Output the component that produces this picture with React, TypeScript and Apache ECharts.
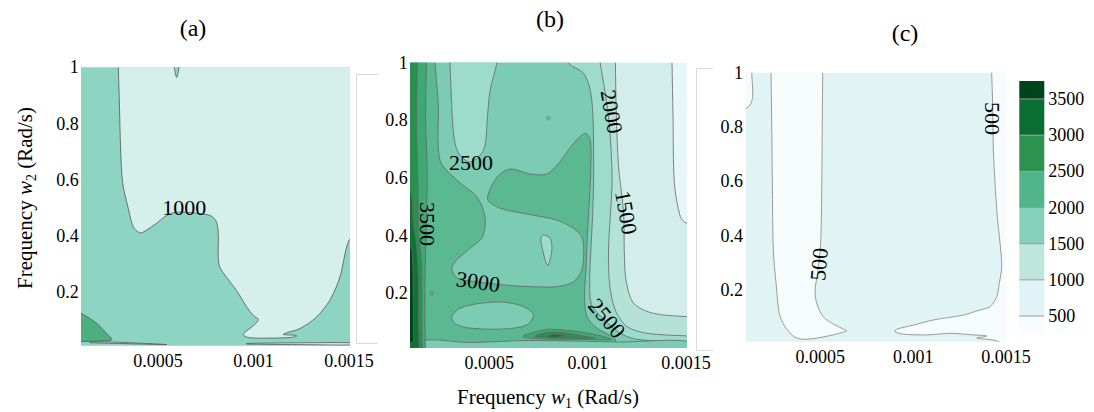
import React, { useEffect, useRef } from "react";
import * as echarts from "echarts";

// Polygon w1 coordinates are written in units of 1e-4 rad/s, w2 in rad/s.
const W1_UNIT = 1e-4;

const X_TICKS = [0.0005, 0.001, 0.0015];
const Y_TICKS = [0.2, 0.4, 0.6, 0.8, 1];
const COLORBAR_TICKS = [500, 1000, 1500, 2000, 2500, 3000, 3500];
const COLORBAR_BOUNDS = [250, 500, 1000, 1500, 2000, 2500, 3000, 3500, 3750];
const COLORBAR_COLORS = ["#f7fcfd", "#e0f3f6", "#bfe6dd", "#87d1bb", "#52b48a", "#2d9150", "#0a6e32", "#00441b"];

// Whole panel (extends past the axes, clipped)
const FULL = [[0.5, 1.05], [15.5, 1.05], [15.5, -0.05], [0.5, -0.05]];

// ---- Panel (a) ----
const A_UPPER = [[2.92, 1.05], [15.5, 1.05], [15.5, 0.4], [15.0, 0.385], [14.52, 0.253], [14.0, 0.172], [13.3, 0.112], [12.43, 0.071], [11.73, 0.056], [11.56, 0.05], [12.17, 0.047], [12.26, 0.044], [11.91, 0.039], [10.69, 0.037], [9.72, 0.039], [9.46, 0.05], [9.72, 0.067], [10.07, 0.086], [10.25, 0.103], [9.98, 0.118], [9.64, 0.148], [9.12, 0.205], [8.59, 0.253], [8.24, 0.288], [8.15, 0.326], [8.15, 0.415], [8.03, 0.454], [7.72, 0.473], [7.02, 0.481], [5.97, 0.485], [5.45, 0.473], [4.93, 0.446], [4.4, 0.421], [4.05, 0.411], [3.7, 0.433], [3.44, 0.498], [3.15, 0.587], [3.04, 0.706], [2.97, 0.884], [2.92, 1.0]];
const A_NOTCH = [[5.8, 1.05], [5.85, 1.0], [5.97, 0.964], [6.1, 1.0], [6.15, 1.05]];
const A_CORNER = [[0.5, 0.13], [1.0, 0.124], [1.79, 0.089], [2.31, 0.053], [2.57, 0.032], [2.13, 0.027], [1.0, 0.025], [0.5, 0.025]];
const A_SLIVER_L = [[1.43, 0.024], [3.0, 0.022], [5.45, 0.014], [3.0, 0.018], [1.43, 0.021]];
const A_SLIVER_R = [[9.64, 0.018], [12.0, 0.02], [15.5, 0.02], [15.5, 0.013], [12.0, 0.014], [9.64, 0.016]];

// ---- Panel (b) ----
const B_L1 = [[0.5, 1.05], [14.29, 1.05], [14.29, 1.0], [14.34, 0.813], [14.41, 0.582], [14.71, 0.466], [15.02, 0.443], [15.5, 0.44], [15.5, -0.05], [0.5, -0.05]];
const B_L2 = [[0.5, 1.05], [11.41, 1.05], [11.41, 1.0], [11.46, 0.813], [11.57, 0.64], [11.83, 0.477], [11.86, 0.35], [11.95, 0.246], [12.34, 0.165], [13.36, 0.13], [15.02, 0.119], [15.5, 0.119], [15.5, -0.05], [0.5, -0.05]];
const B_L3 = [[0.5, 1.05], [10.64, 1.05], [10.64, 1.0], [10.81, 0.928], [11.06, 0.813], [11.19, 0.697], [11.24, 0.582], [11.15, 0.466], [11.06, 0.35], [11.11, 0.235], [11.4, 0.142], [12.0, 0.084], [13.02, 0.061], [15.02, 0.052], [15.5, 0.052], [15.5, -0.05], [0.5, -0.05]];
const B_L4 = [[0.5, 1.05], [9.02, 1.05], [9.02, 1.0], [9.79, 0.963], [10.13, 0.905], [10.27, 0.813], [10.3, 0.697], [10.3, 0.582], [10.25, 0.466], [10.16, 0.35], [10.1, 0.235], [10.2, 0.16], [10.81, 0.11], [11.66, 0.061], [12.51, 0.04], [15.02, 0.03], [15.5, 0.03], [15.5, -0.05], [0.5, -0.05]];
const B_L5 = [[0.5, 1.05], [2.24, 1.05], [2.24, 1.0], [2.4, 0.859], [2.49, 0.662], [3.34, 0.593], [4.36, 0.535], [4.78, 0.466], [4.66, 0.396], [4.02, 0.356], [3.34, 0.315], [3.09, 0.286], [3.38, 0.252], [4.36, 0.24], [5.72, 0.229], [7.07, 0.223], [8.43, 0.223], [9.28, 0.24], [9.7, 0.28], [9.8, 0.35], [9.7, 0.396], [9.28, 0.425], [8.43, 0.454], [6.91, 0.475], [5.55, 0.495], [4.91, 0.527], [5.38, 0.602], [6.06, 0.631], [7.07, 0.614], [7.92, 0.614], [8.6, 0.657], [9.28, 0.72], [9.87, 0.755], [10.13, 0.734], [10.16, 0.639], [10.09, 0.524], [9.99, 0.408], [9.92, 0.292], [9.84, 0.188], [9.96, 0.119], [10.47, 0.079], [11.15, 0.053], [11.4, 0.04], [11.6, -0.05], [0.5, -0.05]];
const B_TOP_BLOB = [[3.0, 1.05], [3.0, 1.0], [3.07, 0.88], [3.17, 0.76], [3.4, 0.69], [4.0, 0.655], [4.6, 0.685], [4.8, 0.72], [4.9, 0.81], [5.04, 0.905], [5.38, 1.0], [5.38, 1.05]];
const B_ELLIPSE = [[3.09, 0.119], [3.51, 0.148], [4.53, 0.165], [5.72, 0.169], [6.73, 0.154], [7.24, 0.125], [6.91, 0.09], [5.72, 0.076], [4.02, 0.079], [3.26, 0.094]];
const B_SPIKE = [[7.75, 0.402], [8.09, 0.391], [8.18, 0.35], [8.0, 0.298], [7.89, 0.304], [7.67, 0.362], [7.62, 0.391]];
const B_DOT_UPPER = [[7.92, 0.808], [8.0, 0.815], [8.08, 0.808], [8.0, 0.801]];
const B_DOT_LOWER = [[1.99, 0.2], [2.07, 0.207], [2.15, 0.2], [2.07, 0.193]];
const B_BOTTOM = [[1.5, 0.032], [4.0, 0.029], [7.0, 0.036], [11.6, 0.031], [15.5, 0.028], [15.5, -0.05], [1.5, -0.05]];
const B_LENS_OUTER = [[6.7, 0.05], [7.4, 0.067], [8.1, 0.075], [9.45, 0.067], [10.5, 0.055], [11.2, 0.04], [9.5, 0.04], [7.5, 0.042]];
const B_LENS_MID = [[7.3, 0.05], [8.0, 0.065], [8.8, 0.063], [9.9, 0.05], [10.4, 0.043], [8.5, 0.044]];
const B_LENS_CORE = [[7.9, 0.05], [8.3, 0.057], [8.8, 0.053], [8.4, 0.047]];
const B_L6 = [[0.5, 1.05], [1.8, 1.05], [1.8, 1.0], [1.76, 0.8], [1.84, 0.62], [1.8, 0.45], [1.74, 0.3], [1.72, 0.12], [1.74, 0.03], [1.74, -0.05], [0.5, -0.05]];
const B_L7 = [[0.5, 1.05], [1.34, 1.05], [1.34, 1.0], [1.3, 0.8], [1.36, 0.6], [1.42, 0.4], [1.55, 0.3], [1.56, 0.12], [1.58, 0.03], [1.58, -0.05], [0.5, -0.05]];
const B_L8 = [[0.5, 0.55], [1.0, 0.55], [1.12, 0.45], [1.3, 0.36], [1.39, 0.25], [1.4, 0.1], [1.42, 0.03], [1.42, -0.05], [0.5, -0.05]];
const B_L9 = [[0.5, 0.36], [1.0, 0.36], [1.1, 0.3], [1.13, 0.18], [1.14, 0.06], [1.1, 0.03], [0.5, 0.03]];

// ---- Panel (c) ----
const C_LEFT = [[2.35, 1.05], [2.35, 1.0], [2.38, 0.838], [2.42, 0.593], [2.47, 0.347], [2.62, 0.225], [2.79, 0.114], [3.1, 0.065], [3.64, 0.026], [4.27, 0.019], [5.35, 0.03], [6.42, 0.05], [6.2, 0.058], [5.7, 0.075], [5.16, 0.102], [4.81, 0.151], [4.72, 0.2], [4.85, 0.26], [5.02, 0.372], [5.08, 0.593], [5.11, 0.838], [5.13, 1.0], [5.13, 1.05]];
const C_CORNER = [[0.5, 1.05], [1.31, 1.05], [1.31, 1.0], [1.36, 0.912], [1.22, 0.881], [1.0, 0.869], [0.5, 0.869]];
const C_RIGHT = [[14.23, 1.05], [14.23, 1.0], [14.28, 0.887], [14.32, 0.716], [14.41, 0.593], [14.53, 0.47], [14.68, 0.372], [14.77, 0.286], [14.64, 0.225], [14.5, 0.176], [14.14, 0.139], [13.6, 0.127], [12.7, 0.108], [11.09, 0.09], [10.01, 0.071], [9.12, 0.056], [9.02, 0.047], [9.47, 0.038], [10.73, 0.035], [11.99, 0.041], [13.24, 0.035], [13.96, 0.031], [13.42, 0.023], [14.2, 0.017], [14.7, 0.005], [14.7, -0.05], [15.5, -0.05], [15.5, 1.05]];

// Contour labels: text, w1 (1e-4 rad/s), w2, angle in degrees
const LABELS_A = [{ text: "1000", w1: 6.37, w2: 0.5, angle: 0 }];
const LABELS_B = [
  { text: "2500", w1: 4.07, w2: 0.652, angle: 0 },
  { text: "3500", w1: 1.87, w2: 0.44, angle: -90 },
  { text: "3000", w1: 4.43, w2: 0.24, angle: -8 },
  { text: "2000", w1: 11.22, w2: 0.83, angle: -80 },
  { text: "1500", w1: 11.96, w2: 0.48, angle: -80 },
  { text: "2500", w1: 10.98, w2: 0.113, angle: -50 },
];
const LABELS_C = [
  { text: "500", w1: 4.93, w2: 0.295, angle: 85 },
  { text: "500", w1: 14.28, w2: 0.831, angle: -90 },
];

const PAL_A = { mid: "#8dd4c2", light: "#d5efeb", dark: "#4caf7e" };
const PAL_B = ["#e7f6f9", "#d3eeea", "#b4e2d7", "#9ddbcb", "#7ccbb3", "#5bb991", "#40a874", "#2a9050", "#0f7335", "#00441b"];
const PAL_C = { mid: "#e0f3f5", low: "#f6fbfc" };

const LAYERS_A = [
  { pts: FULL, color: PAL_A.mid, edge: false },
  { pts: A_UPPER, color: PAL_A.light, edge: true },
  { pts: A_NOTCH, color: PAL_A.mid, edge: true },
  { pts: A_CORNER, color: PAL_A.dark, edge: true },
  { pts: A_SLIVER_L, color: PAL_A.light, edge: true },
  { pts: A_SLIVER_R, color: PAL_A.light, edge: true },
];
const LAYERS_B = [
  { pts: FULL, color: PAL_B[0], edge: false },
  { pts: B_L1, color: PAL_B[1], edge: true },
  { pts: B_L2, color: PAL_B[2], edge: true },
  { pts: B_L3, color: PAL_B[3], edge: true },
  { pts: B_L4, color: PAL_B[4], edge: true },
  { pts: B_L5, color: PAL_B[5], edge: true },
  { pts: B_TOP_BLOB, color: PAL_B[3], edge: true },
  { pts: B_ELLIPSE, color: PAL_B[4], edge: true },
  { pts: B_SPIKE, color: PAL_B[3], edge: true },
  { pts: B_DOT_UPPER, color: PAL_B[4], edge: true },
  { pts: B_DOT_LOWER, color: PAL_B[5], edge: true },
  { pts: B_BOTTOM, color: PAL_B[4], edge: true },
  { pts: B_LENS_OUTER, color: PAL_B[6], edge: true },
  { pts: B_LENS_MID, color: PAL_B[7], edge: true },
  { pts: B_LENS_CORE, color: PAL_B[8], edge: true },
  { pts: B_L6, color: PAL_B[6], edge: true },
  { pts: B_L7, color: PAL_B[7], edge: true },
  { pts: B_L8, color: PAL_B[8], edge: true },
  { pts: B_L9, color: PAL_B[9], edge: true },
];
const LAYERS_C = [
  { pts: FULL, color: PAL_C.mid, edge: false },
  { pts: C_LEFT, color: PAL_C.low, edge: true },
  { pts: C_CORNER, color: PAL_C.low, edge: true },
  { pts: C_RIGHT, color: PAL_C.low, edge: true },
];

const SERIF = "'Liberation Serif', serif";

function contourSeries(idx: number, layers: any[], lineColor: string, lineWidth: number) {
  return {
    type: "custom",
    xAxisIndex: idx,
    yAxisIndex: idx,
    coordinateSystem: "cartesian2d",
    clip: true,
    silent: true,
    data: layers.map((_l, k) => [0.0008, 0.5, k]),
    renderItem: (params: any, api: any) => {
      const layer = layers[params.dataIndex];
      const points = layer.pts.map((p: number[]) => api.coord([p[0] * W1_UNIT, p[1]]));
      return {
        type: "polygon",
        shape: { points, smooth: layer.edge ? 0.3 : 0 },
        style: {
          fill: layer.color,
          stroke: layer.edge ? lineColor : "none",
          lineWidth,
        },
      };
    },
  };
}

function labelSeries(idx: number, labels: any[]) {
  return {
    type: "custom",
    xAxisIndex: idx,
    yAxisIndex: idx,
    coordinateSystem: "cartesian2d",
    silent: true,
    data: labels.map((l) => [l.w1 * W1_UNIT, l.w2]),
    renderItem: (params: any, api: any) => {
      const l = labels[params.dataIndex];
      const [x, y] = api.coord([api.value(0), api.value(1)]);
      return {
        type: "text",
        x,
        y,
        rotation: (l.angle * Math.PI) / 180,
        style: {
          text: l.text,
          fill: "#000",
          fontFamily: SERIF,
          fontSize: 22,
          align: "center",
          verticalAlign: "middle",
        },
      };
    },
  };
}

const tickLabel = { color: "#000", fontFamily: SERIF, fontSize: 18 };

function xAxisFor(gridIndex: number) {
  return {
    type: "value",
    gridIndex,
    min: 0.0001,
    max: 0.0015,
    axisLine: { show: false },
    axisTick: { show: false },
    splitLine: { show: false },
    axisLabel: { ...tickLabel, margin: 6, customValues: X_TICKS, formatter: (v: number) => String(v) },
  };
}
function yAxisFor(gridIndex: number) {
  return {
    type: "value",
    gridIndex,
    min: 0.01,
    max: 1,
    axisLine: { show: false },
    axisTick: { show: false },
    splitLine: { show: false },
    axisLabel: { ...tickLabel, margin: 3, customValues: Y_TICKS, formatter: (v: number) => String(v) },
  };
}

function textStyle(text: string, size: number) {
  return {
    text,
    fontFamily: SERIF,
    fontSize: size,
    fill: "#000",
    align: "center",
    verticalAlign: "middle",
    textAlign: "center",
    textVerticalAlign: "middle",
  };
}

function buildOption() {
  const bands = COLORBAR_COLORS.map((c, i) => [COLORBAR_BOUNDS[i], COLORBAR_BOUNDS[i + 1], i]);
  const axisTitleRich = {
    t: { fontFamily: SERIF, fontSize: 21, fill: "#000", lineHeight: 26 },
    i: { fontFamily: SERIF, fontSize: 21, fontStyle: "italic", fill: "#000", lineHeight: 26 },
    s: { fontFamily: SERIF, fontSize: 14, fill: "#000", lineHeight: 14, verticalAlign: "bottom" },
  };
  return {
    animation: false,
    backgroundColor: "#ffffff",
    textStyle: { fontFamily: SERIF },
    grid: [
      { left: 81.7, top: 67.3, width: 267.3, height: 278.4 },
      { left: 410.7, top: 62.7, width: 275.3, height: 285.3 },
      { left: 746, top: 72.7, width: 260, height: 269 },
      { left: 1019.3, top: 62.8, width: 25, height: 289.4 },
    ],
    xAxis: [
      xAxisFor(0),
      xAxisFor(1),
      xAxisFor(2),
      { type: "value", gridIndex: 3, min: 0, max: 1, show: false },
    ],
    yAxis: [
      yAxisFor(0),
      yAxisFor(1),
      yAxisFor(2),
      {
        type: "value",
        gridIndex: 3,
        min: 0,
        max: 4000,
        position: "right",
        axisLine: { show: false },
        axisTick: { show: false },
        splitLine: { show: false },
        axisLabel: { ...tickLabel, margin: 4, customValues: COLORBAR_TICKS, formatter: (v: number) => String(v) },
      },
    ],
    series: [
      contourSeries(0, LAYERS_A, "#555555", 0.8),
      contourSeries(1, LAYERS_B, "#666666", 0.8),
      contourSeries(2, LAYERS_C, "#9a9a9a", 1),
      labelSeries(0, LABELS_A),
      labelSeries(1, LABELS_B),
      labelSeries(2, LABELS_C),
      {
        type: "custom",
        xAxisIndex: 3,
        yAxisIndex: 3,
        coordinateSystem: "cartesian2d",
        silent: true,
        data: bands,
        renderItem: (_params: any, api: any) => {
          const lo = api.value(0);
          const hi = api.value(1);
          const idx = api.value(2);
          const tl = api.coord([0, hi]);
          const br = api.coord([1, lo]);
          const children: any[] = [
            {
              type: "rect",
              shape: { x: tl[0], y: tl[1], width: br[0] - tl[0], height: br[1] - tl[1] },
              style: { fill: COLORBAR_COLORS[idx] },
            },
          ];
          if (idx > 0) {
            children.push({
              type: "line",
              shape: { x1: tl[0], y1: br[1], x2: br[0], y2: br[1] },
              style: { stroke: "#9a9a9a", lineWidth: 1 },
            });
          }
          return { type: "group", children };
        },
      },
    ],
    graphic: [
      { type: "text", x: 193, y: 28, style: textStyle("(a)", 24) },
      { type: "text", x: 550, y: 19, style: textStyle("(b)", 24) },
      { type: "text", x: 905, y: 33, style: textStyle("(c)", 24) },
      {
        type: "text",
        x: 548,
        y: 397,
        style: {
          text: "{t|Frequency }{i|w}{s|1}{t| (Rad/s)}",
          rich: axisTitleRich,
          fontFamily: SERIF,
          align: "center",
          verticalAlign: "middle",
          textAlign: "center",
          textVerticalAlign: "middle",
        },
      },
      {
        type: "text",
        x: 25,
        y: 198,
        rotation: Math.PI / 2,
        style: {
          text: "{t|Frequency }{i|w}{s|2}{t| (Rad/s)}",
          rich: axisTitleRich,
          fontFamily: SERIF,
          align: "center",
          verticalAlign: "middle",
          textAlign: "center",
          textVerticalAlign: "middle",
        },
      },
      {
        type: "polyline",
        shape: { points: [[378, 74.5], [356.5, 74.5], [356.5, 343.5], [378, 343.5]] },
        style: { stroke: "#d9d9d9", fill: "none", lineWidth: 1 },
      },
      {
        type: "polyline",
        shape: { points: [[713, 68.5], [696.5, 68.5], [696.5, 350.5], [713, 350.5]] },
        style: { stroke: "#d9d9d9", fill: "none", lineWidth: 1 },
      },
    ],
  };
}

export default function App() {
  const ref = useRef<HTMLDivElement>(null);
  useEffect(() => {
    if (!ref.current) return;
    const chart = echarts.init(ref.current, null, { renderer: "svg" });
    chart.setOption(buildOption() as any);
    return () => chart.dispose();
  }, []);
  return (
    <div
      ref={ref}
      style={{ position: "fixed", left: 0, top: 0, width: 1094, height: 412, background: "#fff" }}
    />
  );
}
